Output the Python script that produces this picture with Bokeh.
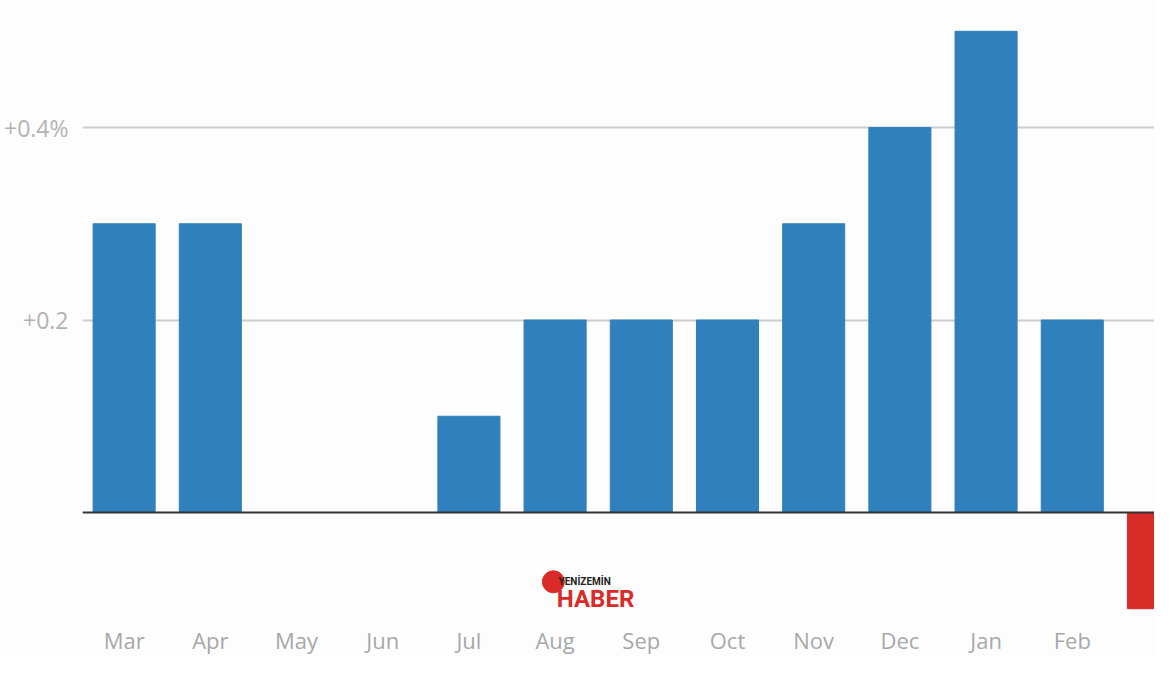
from bokeh.plotting import figure
from bokeh.models import FixedTicker, Span, ColumnDataSource, Label
from bokeh.embed import file_html
from bokeh.resources import INLINE

# Data
months = ["Mar", "Apr", "May", "Jun", "Jul", "Aug", "Sep", "Oct", "Nov", "Dec", "Jan", "Feb", "Mar"]
changes = [0.3, 0.3, 0.0, 0.0, 0.1, 0.2, 0.2, 0.2, 0.3, 0.4, 0.5, 0.2, -0.1]
y_ticks = [0.2, 0.4]
y_tick_labels = ["+0.2", "+0.4%"]

BLUE = "#2f80bd"
RED = "#d92b27"
GREY = "#b3b3b3"

idx = list(range(len(months)))
colors = [BLUE if v >= 0 else RED for v in changes]
src = ColumnDataSource(dict(x=idx, top=changes, color=colors, month=months))

p = figure(width=1154, height=657, output_backend="svg", toolbar_location=None,
           x_range=(-0.483, 11.954), y_range=(-0.106, 0.532),
           min_border_left=70, min_border_right=0, min_border_top=0, min_border_bottom=32,
           background_fill_color="#fdfdfd", border_fill_color="#fdfdfd")
p.outline_line_color = None

p.vbar(x="x", top="top", bottom=0, width=0.72, color="color", source=src)

zero = Span(location=0, dimension="width", line_color="#333333", line_width=2)
p.add_layout(zero)

# axes
p.yaxis.ticker = FixedTicker(ticks=y_ticks)
p.yaxis.major_label_overrides = {t: l for t, l in zip(y_ticks, y_tick_labels)}
p.yaxis.axis_line_color = None
p.yaxis.major_tick_line_color = None
p.yaxis.minor_tick_line_color = None
p.yaxis.major_label_text_color = GREY
p.yaxis.major_label_text_font = "Open Sans"
p.yaxis.major_label_text_font_size = "23px"
p.yaxis.major_label_standoff = 8

p.xaxis.ticker = FixedTicker(ticks=idx)
p.xaxis.major_label_overrides = {i: m for i, m in zip(idx, months)}
p.xaxis.axis_line_color = None
p.xaxis.major_tick_line_color = None
p.xaxis.minor_tick_line_color = None
p.xaxis.major_label_text_color = "#a8a8a8"
p.xaxis.major_label_text_font = "Open Sans"
p.xaxis.major_label_text_font_size = "22px"
p.xaxis.major_label_standoff = 4

p.xgrid.grid_line_color = None
p.ygrid.ticker = FixedTicker(ticks=y_ticks)
p.ygrid.grid_line_color = "#cccccc"
p.ygrid.grid_line_width = 2

# watermark logo
p.scatter(x=[4.98], y=[-0.072], size=22, color=RED, marker="circle")
p.add_layout(Label(x=5.04, y=-0.077, text="YENİZEMİN", text_font="Roboto",
                   text_font_size="10px", text_color="#222222", text_font_style="bold",
                   text_baseline="bottom"))
p.add_layout(Label(x=5.02, y=-0.104, text="HABER", text_font="Roboto",
                   text_font_size="24px", text_color=RED, text_font_style="bold",
                   text_baseline="bottom"))

open("out.html", "w").write(file_html(p, INLINE))
